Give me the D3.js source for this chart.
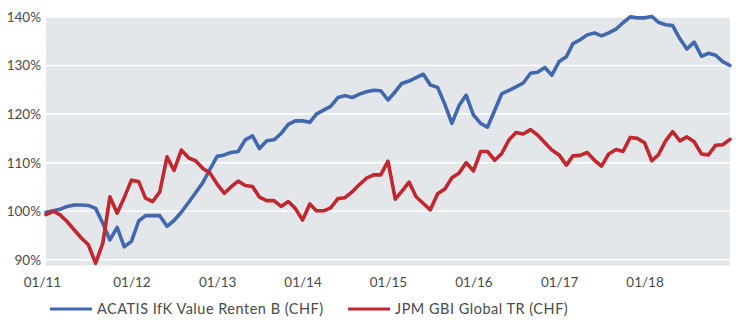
<!DOCTYPE html>
<html>
<head>
<meta charset="utf-8">
<script src="https://cdn.jsdelivr.net/npm/d3@7/dist/d3.min.js"></script>
<style>
  html, body { margin: 0; padding: 0; background: #fff; }
  svg { display: block; }
  text { font-family: Lato, "Open Sans", sans-serif; fill: #4a4a4a; }
</style>
</head>
<body>
<svg id="chart" width="736" height="324"></svg>
<script>
// Monthly index levels (start = 100%), January 2011 onwards
const seriesNames = ["ACATIS IfK Value Renten B (CHF)", "JPM GBI Global TR (CHF)"];
const seriesColors = ["#4167ae", "#c0272f"];

const acatis = [
  99.8, 100.1, 100.4, 101.0, 101.3, 101.3, 101.2, 100.6, 97.5, 94.1, 96.7, 92.7,
  93.8, 98.0, 99.1, 99.1, 99.1, 96.9, 98.1, 99.8, 101.8, 103.8, 105.9, 108.6,
  111.3, 111.6, 112.1, 112.3, 114.7, 115.5, 112.9, 114.5, 114.7, 116.0, 117.9, 118.6,
  118.6, 118.3, 120.0, 120.8, 121.6, 123.4, 123.8, 123.4, 124.1, 124.6, 124.9, 124.8,
  122.9, 124.6, 126.3, 126.8, 127.5, 128.2, 126.0, 125.5, 122.0, 118.1, 121.8, 123.9,
  119.8, 118.1, 117.3, 120.8, 124.2, 124.9, 125.6, 126.4, 128.4, 128.6, 129.6, 128.0,
  130.8, 131.8, 134.5, 135.3, 136.3, 136.7, 136.1, 136.7, 137.5, 138.8, 140.0, 139.8,
  139.8, 140.1, 138.9, 138.4, 138.2, 135.5, 133.4, 134.8, 131.9, 132.5, 132.1, 130.8,
  130.0
];

const jpmGbi = [
  99.3, 100.0, 99.3, 97.9, 96.2, 94.5, 93.1, 89.3, 93.5, 103.0, 99.6, 102.8,
  106.4, 106.1, 102.7, 102.0, 104.0, 111.2, 108.4, 112.6, 111.0, 110.4, 108.8, 107.9,
  105.6, 103.7, 105.0, 106.2, 105.3, 105.1, 102.9, 102.2, 102.2, 101.0, 102.0, 100.6,
  98.2, 101.5, 100.1, 100.1, 100.7, 102.6, 102.8, 104.0, 105.5, 106.8, 107.5, 107.5,
  110.3, 102.5, 104.1, 106.0, 103.0, 101.6, 100.3, 103.6, 104.6, 106.9, 107.9, 110.0,
  108.3, 112.3, 112.3, 110.5, 111.9, 114.7, 116.2, 115.9, 116.8, 115.7, 114.1, 112.6,
  111.6, 109.5, 111.4, 111.5, 112.1, 110.5, 109.3, 111.8, 112.7, 112.3, 115.2, 115.0,
  114.1, 110.4, 111.6, 114.5, 116.4, 114.5, 115.3, 114.3, 111.8, 111.6, 113.6, 113.7,
  114.8
];

const yTicks = [90, 100, 110, 120, 130, 140];
const xTickYears = [2011, 2012, 2013, 2014, 2015, 2016, 2017, 2018];

const svg = d3.select("#chart");
const plot = { left: 46, right: 730, top: 16.7, bottom: 265.7 };

const start = new Date(2011, 0, 1);
const months = acatis.map((_, i) => d3.timeMonth.offset(start, i));

const x = d3.scaleTime()
  .domain([start, new Date(2019, 0, 1)])
  .range([plot.left, plot.right]);

const y = d3.scaleLinear()
  .domain([88.8, 140.04])
  .range([plot.bottom, plot.top]);

// plot background
svg.append("rect")
  .attr("x", plot.left).attr("y", plot.top)
  .attr("width", plot.right - plot.left)
  .attr("height", plot.bottom - plot.top)
  .attr("fill", "#e4e7ea");

// horizontal grid
svg.append("g")
  .selectAll("line")
  .data(yTicks)
  .join("line")
  .attr("x1", plot.left).attr("x2", plot.right)
  .attr("y1", d => y(d)).attr("y2", d => y(d))
  .attr("stroke", "#ffffff")
  .attr("stroke-width", 1.5);

// y axis labels
const yAxis = d3.axisLeft(y)
  .tickValues(yTicks)
  .tickSize(0)
  .tickPadding(5)
  .tickFormat(d => d + "%");
svg.append("g")
  .attr("transform", `translate(${plot.left},0)`)
  .call(yAxis)
  .call(g => g.select(".domain").remove())
  .call(g => g.selectAll("text")
    .attr("font-size", 13.5)
    .attr("font-family", "Lato, sans-serif")
    .attr("fill", "#4a4a4a"));

// x axis labels (first one nudged left to sit clear of the axis corner)
const xAxis = d3.axisBottom(x)
  .tickValues(xTickYears.map(yr => new Date(yr, 0, 1)))
  .tickSize(0)
  .tickPadding(12)
  .tickFormat(d3.timeFormat("%m/%y"));
svg.append("g")
  .attr("transform", `translate(0,${plot.bottom})`)
  .call(xAxis)
  .call(g => g.select(".domain").remove())
  .call(g => g.selectAll("text")
    .attr("font-size", 13.5)
    .attr("font-family", "Lato, sans-serif")
    .attr("fill", "#4a4a4a")
    .attr("dx", (d, i) => i === 0 ? -4 : 0));

// series lines
const line = d3.line()
  .x((d, i) => x(months[i]))
  .y(d => y(d))
  .curve(d3.curveLinear);

[acatis, jpmGbi].forEach((vals, k) => {
  svg.append("path")
    .datum(vals)
    .attr("fill", "none")
    .attr("stroke", seriesColors[k])
    .attr("stroke-width", 3.6)
    .attr("stroke-linejoin", "round")
    .attr("stroke-linecap", "round")
    .attr("d", line);
});

// legend
const legendItems = [
  { x: 50, name: seriesNames[0], color: seriesColors[0] },
  { x: 348, name: seriesNames[1], color: seriesColors[1] }
];
const legend = svg.append("g").attr("transform", "translate(0,309)");
legendItems.forEach(item => {
  legend.append("line")
    .attr("x1", item.x).attr("x2", item.x + 42)
    .attr("y1", 0).attr("y2", 0)
    .attr("stroke", item.color)
    .attr("stroke-width", 3);
  legend.append("text")
    .attr("x", item.x + 47)
    .attr("y", 0)
    .attr("dy", "0.35em")
    .attr("font-size", 14.5)
    .attr("letter-spacing", 0.5)
    .text(item.name);
});
</script>
</body>
</html>
